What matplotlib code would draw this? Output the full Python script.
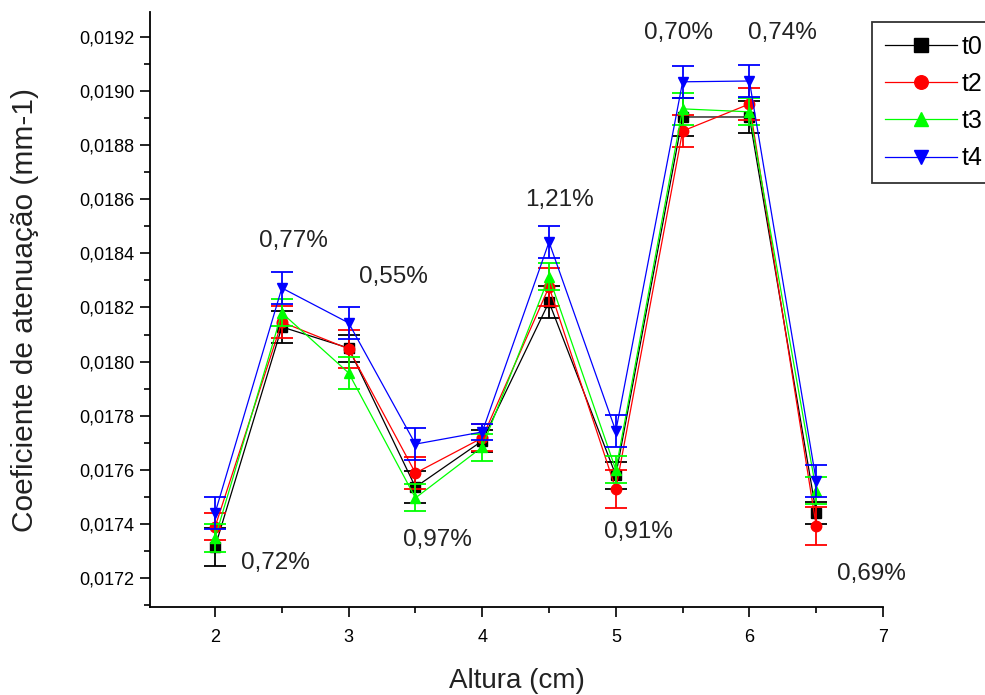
import numpy as np
import matplotlib
matplotlib.use("Agg")
import matplotlib.pyplot as plt
from matplotlib.ticker import MultipleLocator, FuncFormatter

plt.rcParams['font.family'] = ['Liberation Sans', 'DejaVu Sans']

# Dados
altura = [2.0, 2.5, 3.0, 3.5, 4.0, 4.5, 5.0, 5.5, 6.0, 6.5]
t0 = [0.017315, 0.018128, 0.018050, 0.017536, 0.017707, 0.018220, 0.017580, 0.018904, 0.018904, 0.017440]
t2 = [0.017389, 0.018146, 0.018047, 0.017588, 0.017718, 0.018276, 0.017529, 0.018852, 0.018952, 0.017392]
t3 = [0.017348, 0.018180, 0.017958, 0.017496, 0.017684, 0.018313, 0.017600, 0.018934, 0.018923, 0.017522]
t4 = [0.017440, 0.018272, 0.018143, 0.017695, 0.017740, 0.018442, 0.017743, 0.019034, 0.019037, 0.017559]
err_t0 = [0.00007, 0.00006, 0.00005, 0.00006, 0.00004, 0.00006, 0.00005, 0.00007, 0.00006, 0.00004]
err_t2 = [0.00005, 0.00006, 0.00007, 0.00006, 0.00005, 0.00007, 0.00007, 0.00006, 0.00006, 0.00007]
err_t3 = [0.00005, 0.00005, 0.00006, 0.00005, 0.00005, 0.00005, 0.00005, 0.00006, 0.00005, 0.00005]
err_t4 = [0.00006, 0.00006, 0.00006, 0.00006, 0.00003, 0.00006, 0.00006, 0.00006, 0.00006, 0.00006]

series = [
    ("t0", t0, err_t0, "black", "s"),
    ("t2", t2, err_t2, "#ff0000", "o"),
    ("t3", t3, err_t3, "#00ff00", "^"),
    ("t4", t4, err_t4, "#0000ff", "v"),
]

# Rótulos de variação percentual
rotulos = ["0,72%", "0,77%", "0,55%", "0,97%", "1,21%", "0,91%", "0,70%", "0,74%", "0,69%"]
rot_x = [2.449, 2.584, 3.332, 3.662, 4.582, 5.166, 5.466, 6.244, 6.91]
rot_y = [0.017255, 0.018446, 0.018313, 0.017340, 0.018597, 0.017370, 0.019215, 0.019215, 0.017215]

fig = plt.figure(figsize=(9.85, 6.95), dpi=100)
ax = fig.add_axes([150 / 985, 1 - 607 / 695, 733 / 985, 595 / 695])

for nome, y, e, cor, mk in series:
    ax.errorbar(altura, y, yerr=e, fmt="none", ecolor=cor, elinewidth=1.3,
                capsize=8, capthick=1.3)
    ax.plot(altura, y, color=cor, lw=0.9, marker=mk, markersize=7.5,
            markeredgecolor=cor, label=nome)

for txt, x, y in zip(rotulos, rot_x, rot_y):
    ax.text(x, y, txt, fontsize=17.5, ha="center", va="center", color="#222222")

ax.set_xlim(1.513, 7.0)
ax.set_ylim(0.017093, 0.019292)
ax.xaxis.set_major_locator(MultipleLocator(1))
ax.xaxis.set_minor_locator(MultipleLocator(0.5))
ax.yaxis.set_major_locator(MultipleLocator(0.0002))
ax.yaxis.set_minor_locator(MultipleLocator(0.0001))
ax.xaxis.set_major_formatter(FuncFormatter(lambda v, p: f"{v:.0f}"))
ax.yaxis.set_major_formatter(FuncFormatter(lambda v, p: f"{v:.4f}".replace(".", ",")))
ax.set_xticks([2, 3, 4, 5, 6, 7])

ax.spines["top"].set_visible(False)
ax.spines["right"].set_visible(False)
ax.spines["left"].set_linewidth(1.3)
ax.spines["bottom"].set_linewidth(1.3)
ax.tick_params(which="major", direction="out", length=7, width=1.2, labelsize=13, pad=4)
ax.tick_params(axis="x", which="major", pad=9)
ax.tick_params(which="minor", direction="out", length=4, width=1.2)

ax.set_xlabel("Altura (cm)", fontsize=20, labelpad=16, color="#222222")
ax.set_ylabel("Coeficiente de atenuação (mm-1)", fontsize=21.5, labelpad=29, color="#222222")

leg = ax.legend(loc="upper left", bbox_to_anchor=(872 / 985, 1 - 22 / 695),
                bbox_transform=fig.transFigure, fontsize=18, frameon=True,
                fancybox=False, handlelength=2.9, numpoints=1, labelspacing=0.53,
                borderpad=0.5, handletextpad=0.2, borderaxespad=0, markerscale=1.3)
leg.get_frame().set_edgecolor("black")
leg.get_frame().set_linewidth(1.3)

fig.savefig("out.png", dpi=100)
